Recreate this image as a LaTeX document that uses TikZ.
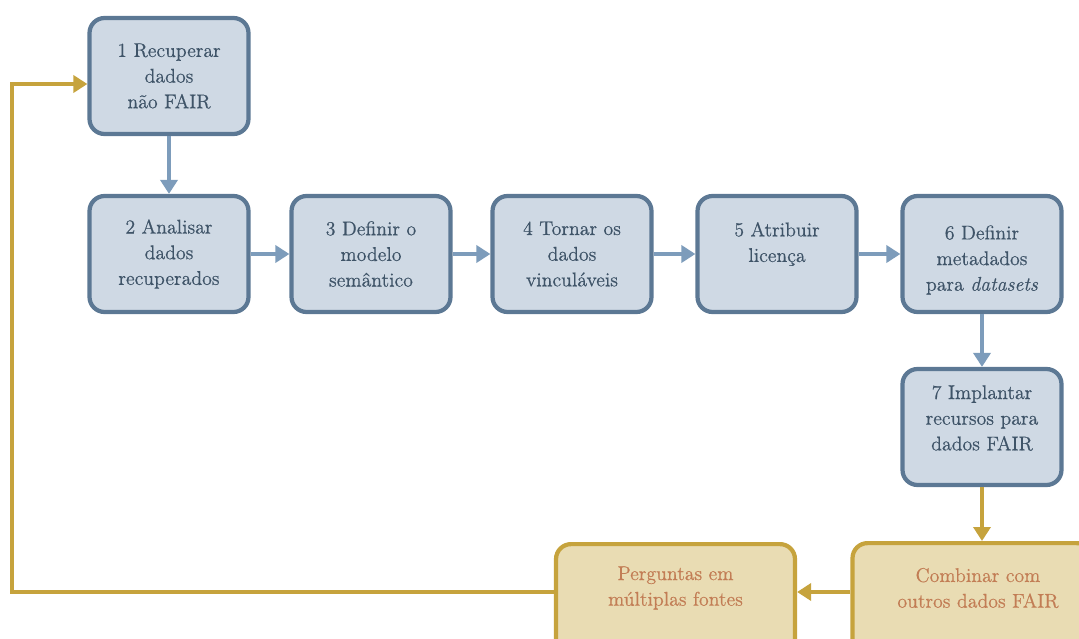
\documentclass[tikz,border=0pt]{standalone}
\usepackage{fontspec}
\newfontfamily\boxfont[FakeBold=0.6]{Latin Modern Roman}
\usetikzlibrary{arrows.meta}
\definecolor{boxfill}{HTML}{CFD9E4}
\definecolor{boxline}{HTML}{5C7894}
\definecolor{boxtext}{HTML}{3F5468}
\definecolor{flowblue}{HTML}{7D9CBB}
\definecolor{goldfill}{HTML}{E9DCB3}
\definecolor{goldline}{HTML}{C6A33D}
\definecolor{goldtext}{HTML}{C27D55}
\tikzstyle{step box} = [rectangle, rounded corners=0.3cm, minimum width=3.18cm, minimum height=2.32cm, align=center, line width=2.4pt, draw=boxline, fill=boxfill, text=boxtext, font=\boxfont\fontsize{11.3}{14.6}\selectfont]
\tikzstyle{step label} = [align=center, text=boxtext, font=\boxfont\fontsize{11.3}{14.6}\selectfont]
\tikzstyle{gold box} = [rectangle, rounded corners=0.3cm, minimum width=4.78cm, minimum height=2.32cm, line width=2.4pt, draw=goldline, fill=goldfill]
\tikzstyle{gold label} = [align=center, text=goldtext, font=\boxfont\fontsize{11.3}{14.6}\selectfont]
\tikzstyle{arrow} = [line width=2.3pt, draw=flowblue, -{Triangle[length=0.28cm,width=0.34cm]}]
\tikzstyle{goldarrow} = [line width=2.3pt, draw=goldline, -{Triangle[length=0.28cm,width=0.34cm]}]

\begin{document}
\begin{tikzpicture}[x=0.02cm,y=-0.02cm]
\useasboundingbox (0,0) rectangle (1079,639);
\clip (0,0) rectangle (1079,639);
% blue steps
\node[step box] (b1) at (169,76) {1 Recuperar\\dados\\não FAIR};
\node[step box] (b2) at (169,254) {2 Analisar\\dados\\recuperados};
\node[step box] (b3) at (371,254) {3 Definir o\\modelo\\semântico};
\node[step box] (b4) at (572,254) {4 Tornar os\\dados\\vinculáveis};
\node[step box] (b5) at (777,254) {};
\node[step label] (b5t) at (777,244) {5 Atribuir\\licença};
\node[step box] (b6) at (982,254) {};
\node[step label] (b6t) at (982,260) {6 Definir\\metadados\\para \textit{datasets}};
\node[step box] (b7) at (982,427) {};
\node[step label] (b7t) at (982,418) {7 Implantar\\recursos para\\dados FAIR};
% gold steps, cut by the page edge
\node[gold box,anchor=north] (perg) at (675.5,542) {};
\node[gold label] (pergT) at (675.5,588) {Perguntas em\\múltiplas fontes};
\node[gold box,anchor=north] (comb) at (972,541) {};
\node[gold label] (combT) at (978,588) {Combinar com\\outros dados FAIR};
\coordinate (back) at (12,84);

\draw[arrow] (b1) -- (b2);
\draw[arrow] (b2) -- (b3);
\draw[arrow] (b3) -- (b4);
\draw[arrow] (b4) -- (b5);
\draw[arrow] (b5) -- (b6);
\draw[arrow] (b6) -- (b7);
\draw[goldarrow] (b7.south) -- (b7.south |- comb.north);
\draw[goldarrow] (comb.west |- 0,592) -- (perg.east |- 0,592);
\draw[goldarrow] (perg.west |- 0,592) -| (back) -- (b1.west |- back);
\end{tikzpicture}
\end{document}
